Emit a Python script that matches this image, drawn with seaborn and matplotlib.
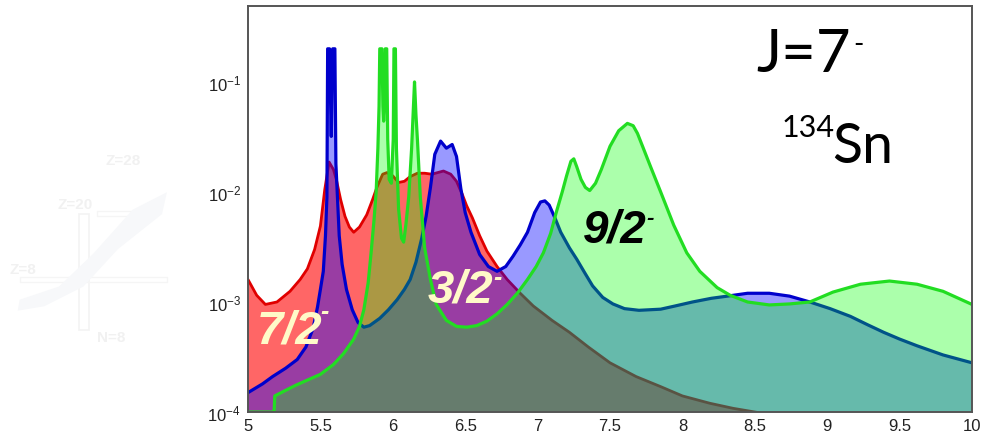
import numpy as np
import pandas as pd
import matplotlib
matplotlib.use("Agg")
import matplotlib.pyplot as plt
from matplotlib.ticker import FixedLocator, FuncFormatter, MultipleLocator, NullFormatter
from matplotlib.patches import Rectangle, Polygon
import seaborn as sns

# ---- strength distributions (log scale), one per single-particle component ----
x_72 = [5.00, 5.06, 5.12, 5.20, 5.29, 5.36, 5.41, 5.46, 5.50, 5.53, 5.56, 5.59, 5.61,
        5.64, 5.67, 5.70, 5.73, 5.77, 5.82, 5.86, 5.89, 5.93, 5.96, 6.00, 6.04, 6.08,
        6.12, 6.17, 6.22, 6.27, 6.31, 6.35, 6.40, 6.44, 6.48, 6.51, 6.55, 6.60, 6.65,
        6.72, 6.79, 6.88, 6.97, 7.10, 7.22, 7.35, 7.50, 7.68, 7.85, 8.00, 8.19, 8.35,
        8.50, 8.70, 9.00, 9.50, 10.00]
y_72 = [1.6e-3, 1.15e-3, 9.5e-4, 1.0e-3, 1.25e-3, 1.6e-3, 2.0e-3, 3.0e-3, 4.9e-3, 1.05e-2,
        1.87e-2, 1.6e-2, 1.3e-2, 8.5e-3, 6.0e-3, 4.8e-3, 4.3e-3, 4.8e-3, 6.2e-3, 8.5e-3,
        1.1e-2, 1.45e-2, 1.5e-2, 1.4e-2, 1.22e-2, 1.25e-2, 1.38e-2, 1.48e-2, 1.48e-2,
        1.45e-2, 1.5e-2, 1.55e-2, 1.45e-2, 1.25e-2, 9.5e-3, 7.5e-3, 5.8e-3, 4.0e-3,
        2.9e-3, 2.1e-3, 1.6e-3, 1.2e-3, 9.2e-4, 6.8e-4, 5.3e-4, 3.9e-4, 2.8e-4, 2.1e-4,
        1.7e-4, 1.4e-4, 1.2e-4, 1.08e-4, 1.0e-4, 9.0e-5, 7.5e-5, 6.0e-5, 5.0e-5]

x_32 = [5.00, 5.10, 5.17, 5.26, 5.34, 5.40, 5.45, 5.48, 5.50, 5.52, 5.535, 5.545, 5.55,
        5.563, 5.575, 5.585, 5.60, 5.607, 5.615, 5.63, 5.65, 5.68, 5.72, 5.76, 5.80,
        5.84, 5.91, 5.97, 6.03, 6.08, 6.12, 6.16, 6.20, 6.23, 6.26, 6.29, 6.33, 6.37,
        6.41, 6.44, 6.47, 6.50, 6.54, 6.60, 6.66, 6.72, 6.78, 6.83, 6.88, 6.93, 6.98,
        7.02, 7.05, 7.08, 7.12, 7.16, 7.22, 7.27, 7.33, 7.38, 7.45, 7.52, 7.60, 7.70,
        7.85, 7.95, 8.07, 8.20, 8.31, 8.45, 8.60, 8.74, 8.88, 9.02, 9.16, 9.28, 9.39,
        9.50, 9.62, 9.80, 10.00]
y_32 = [1.5e-4, 1.8e-4, 2.1e-4, 2.5e-4, 3.0e-4, 3.9e-4, 5.8e-4, 9.0e-4, 1.3e-3, 1.9e-3,
        4.0e-3, 9.0e-3, 0.2, 0.2, 3.2e-2, 0.2, 0.2, 1.8e-2, 1.07e-2, 4.0e-3, 2.2e-3,
        1.3e-3, 8.5e-4, 6.5e-4, 5.9e-4, 6.1e-4, 7.1e-4, 8.5e-4, 1.05e-3, 1.3e-3, 1.6e-3,
        2.3e-3, 3.8e-3, 6.0e-3, 1.1e-2, 2.2e-2, 2.9e-2, 2.5e-2, 2.7e-2, 2.1e-2, 1.07e-2,
        6.5e-3, 4.3e-3, 2.7e-3, 2.1e-3, 1.9e-3, 2.1e-3, 2.6e-3, 3.3e-3, 4.3e-3, 6.5e-3,
        8.1e-3, 8.3e-3, 7.6e-3, 5.8e-3, 4.3e-3, 3.1e-3, 2.45e-3, 1.8e-3, 1.4e-3, 1.1e-3,
        9.6e-4, 8.7e-4, 8.4e-4, 8.6e-4, 9.2e-4, 1.0e-3, 1.08e-3, 1.13e-3, 1.2e-3, 1.2e-3,
        1.13e-3, 1.0e-3, 8.7e-4, 7.4e-4, 6.2e-4, 5.3e-4, 4.6e-4, 4.0e-4, 3.3e-4, 2.8e-4]

x_92 = [5.00, 5.18, 5.185, 5.25, 5.33, 5.41, 5.50, 5.59, 5.66, 5.73, 5.77, 5.80, 5.83,
        5.85, 5.87, 5.885, 5.897, 5.905, 5.91, 5.925, 5.932, 5.937, 5.943, 5.948, 5.958,
        5.965, 5.975, 5.99, 6.003, 6.008, 6.018, 6.025, 6.04, 6.06, 6.075, 6.09, 6.11,
        6.13, 6.14, 6.15, 6.16, 6.17, 6.19, 6.22, 6.26, 6.30, 6.37, 6.44, 6.51, 6.58,
        6.65, 6.72, 6.79, 6.86, 6.93, 6.99, 7.04, 7.09, 7.13, 7.17, 7.20, 7.23, 7.25,
        7.27, 7.30, 7.33, 7.36, 7.40, 7.44, 7.50, 7.56, 7.62, 7.66, 7.69, 7.73, 7.78,
        7.85, 7.94, 8.03, 8.12, 8.24, 8.33, 8.45, 8.60, 8.74, 8.88, 9.04, 9.23, 9.43,
        9.62, 9.80, 10.00]
y_92 = [1.0e-4, 1.0e-4, 1.4e-4, 1.55e-4, 1.75e-4, 1.95e-4, 2.2e-4, 2.7e-4, 3.4e-4, 4.6e-4,
        6.0e-4, 8.5e-4, 1.5e-3, 2.8e-3, 5.5e-3, 1.0e-2, 2.5e-2, 6.0e-2, 0.2, 0.2, 6.0e-2,
        4.4e-2, 6.0e-2, 0.2, 0.2, 3.0e-2, 1.3e-2, 1.2e-2, 3.0e-2, 0.2, 0.2, 2.5e-2, 7.0e-3,
        3.8e-3, 3.5e-3, 5.0e-3, 9.0e-3, 2.5e-2, 5.0e-2, 0.1, 5.0e-2, 3.0e-2, 9.0e-3,
        3.1e-3, 1.6e-3, 9.5e-4, 6.8e-4, 6.0e-4, 5.9e-4, 6.1e-4, 6.7e-4, 7.8e-4, 9.5e-4,
        1.2e-3, 1.6e-3, 2.1e-3, 2.8e-3, 4.2e-3, 6.6e-3, 1.0e-2, 1.4e-2, 1.9e-2, 2.0e-2,
        1.7e-2, 1.3e-2, 1.1e-2, 1.03e-2, 1.2e-2, 1.6e-2, 2.6e-2, 3.6e-2, 4.2e-2, 4.0e-2,
        3.4e-2, 2.5e-2, 1.7e-2, 1.0e-2, 5.0e-3, 2.8e-3, 1.9e-3, 1.35e-3, 1.15e-3, 1.0e-3,
        9.4e-4, 9.6e-4, 1.0e-3, 1.23e-3, 1.45e-3, 1.55e-3, 1.45e-3, 1.25e-3, 9.5e-4]

x_ticks = [5, 5.5, 6, 6.5, 7, 7.5, 8, 8.5, 9, 9.5, 10]
x_tick_labels = ["5", "5.5", "6", "6.5", "7", "7.5", "8", "8.5", "9", "9.5", "10"]
y_decades = [1e-4, 1e-3, 1e-2, 1e-1]

sns.set_style("white")
plt.rcParams["font.family"] = ["Liberation Sans", "DejaVu Sans"]
plt.rcParams["mathtext.fontset"] = "custom"
plt.rcParams["mathtext.rm"] = "Liberation Sans"
plt.rcParams["mathtext.it"] = "Liberation Sans:italic"
plt.rcParams["mathtext.bf"] = "Liberation Sans:bold"

fig = plt.figure(figsize=(9.82, 4.39), dpi=100)
fig.patch.set_facecolor("white")

# very faint nuclear-chart sketch in the left margin
faint = "#f1f1f1"
for txt, fx, fy in [("Z=28", 0.107, 0.625), ("Z=20", 0.059, 0.525), ("Z=8", 0.010, 0.375),
                    ("N=8", 0.099, 0.220)]:
    fig.text(fx, fy, txt, color=faint, fontsize=11, fontweight="bold")
fig.patches.append(Rectangle((0.080, 0.245), 0.011, 0.265, transform=fig.transFigure,
                             fill=False, ec="#f3f3f3", lw=1.2))
fig.patches.append(Rectangle((0.020, 0.355), 0.150, 0.012, transform=fig.transFigure,
                             fill=False, ec="#f5f5f5", lw=1.0))
fig.patches.append(Rectangle((0.099, 0.505), 0.060, 0.012, transform=fig.transFigure,
                             fill=False, ec="#f5f5f5", lw=1.0))
fig.patches.append(Polygon([(0.018, 0.290), (0.045, 0.300), (0.085, 0.345), (0.120, 0.430),
                            (0.165, 0.510), (0.170, 0.560), (0.135, 0.520), (0.095, 0.420),
                            (0.060, 0.345), (0.020, 0.315)], closed=True,
                           transform=fig.transFigure, fc="#f7f8fa", ec="none"))

ax = fig.add_axes([248 / 982, 26 / 439, 724 / 982, 406 / 439])
ax.set_facecolor("white")
ax.set_yscale("log")

series = [
    (x_72, y_72, "#ff0000", "#e00000", 0.60, 2.0, 1),
    (x_32, y_32, "#0000ff", "#0000cc", 0.40, 2.3, 3),
    (x_92, y_92, "#00ff00", "#22dd22", 0.33, 2.3, 5),
]
for xs, ys, fc, lc, a, lw, z in series:
    ax.fill_between(xs, ys, 1e-6, color=fc, alpha=a, lw=0, zorder=z)
    df = pd.DataFrame({"E": xs, "S": ys})
    sns.lineplot(data=df, x="E", y="S", ax=ax, color=lc, lw=lw, sort=False,
                 estimator=None, zorder=z + 1)

ax.set_xlim(5, 10)
ax.set_ylim(1e-4, 0.49)
ax.set_xlabel("")
ax.set_ylabel("")

# ticks drawn inside the frame
ax.xaxis.set_major_locator(FixedLocator(x_ticks))
ax.set_xticklabels(x_tick_labels)
ax.xaxis.set_minor_locator(MultipleLocator(0.1))
ax.yaxis.set_major_locator(FixedLocator(y_decades))
ax.yaxis.set_major_formatter(FuncFormatter(lambda v, p: r"10$^{%d}$" % round(np.log10(v))))
ax.yaxis.set_minor_locator(FixedLocator([m * d for d in y_decades for m in range(2, 10)]))
ax.yaxis.set_minor_formatter(NullFormatter())
ax.tick_params(axis="both", which="both", direction="in", colors="#333333",
               labelcolor="#222222", labelsize=12, top=False, right=False)
ax.tick_params(axis="y", which="major", length=16, width=1.1, pad=5)
ax.tick_params(axis="y", which="minor", length=7, width=1.0)
ax.tick_params(axis="x", which="major", length=8, width=1.1, pad=4)
ax.tick_params(axis="x", which="minor", length=4, width=1.0)
for s in ax.spines.values():
    s.set_color("#555555")
    s.set_linewidth(1.4)
    s.set_zorder(10)

# component labels
lab = dict(fontfamily="Liberation Sans", fontweight="bold", fontstyle="italic",
           transform=ax.transAxes, zorder=12)
cream = "#fffac8"
ax.text(0.012, 0.172, "7/2", color=cream, fontsize=34, ha="left", va="baseline", **lab)
ax.text(0.106, 0.248, "-", color=cream, fontsize=18, ha="center", va="center", **lab)
ax.text(0.248, 0.273, "3/2", color=cream, fontsize=34, ha="left", va="baseline", **lab)
ax.text(0.344, 0.333, "-", color=cream, fontsize=18, ha="center", va="center", **lab)
ax.text(0.462, 0.419, "9/2", color="black", fontsize=33, ha="left", va="baseline", **lab)
ax.text(0.555, 0.478, "-", color="black", fontsize=16, ha="center", va="center", **lab)

hdr = dict(fontfamily="Lato", fontweight="normal", color="black", transform=ax.transAxes,
           zorder=12)
ax.text(0.702, 0.840, "J=7", fontsize=43, ha="left", va="baseline", **hdr)
ax.text(0.843, 0.906, "-", fontsize=20, ha="center", va="center", **hdr)
ax.text(0.737, 0.680, "134", fontsize=22, ha="left", va="baseline", **hdr)
ax.text(0.807, 0.616, "Sn", fontsize=40, ha="left", va="baseline", **hdr)

fig.savefig("out.png", dpi=100)
